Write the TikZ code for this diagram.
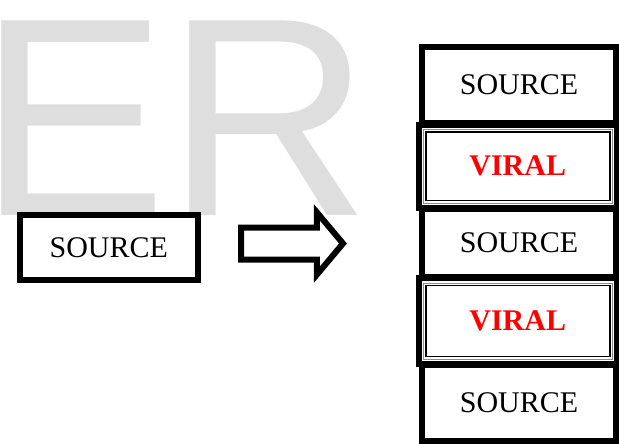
\documentclass[tikz,border=0pt]{standalone}
\usepackage{fontspec}
\newfontfamily\wmfont{Liberation Sans}
\newfontfamily\boxfont{Liberation Serif}
\usetikzlibrary{shapes.arrows}

\begin{document}
\begin{tikzpicture}[x=1pt,y=-1pt,
  box/.style={draw,line width=6pt,fill=white,inner sep=0pt,font=\boxfont\fontsize{30}{36}\selectfont},
  viral/.style={box,text=red,font=\boxfont\fontsize{30}{36}\selectfont\bfseries,
    path picture={
      \draw[black!45,line width=0.6pt] ([shift={(4.8pt,-4.8pt)}]path picture bounding box.north west) rectangle ([shift={(-4.8pt,4.8pt)}]path picture bounding box.south east);
      \draw[line width=1.8pt] ([shift={(7.5pt,-7.5pt)}]path picture bounding box.north west) rectangle ([shift={(-7pt,7.5pt)}]path picture bounding box.south east);
    }},
  bigarrow/.style={single arrow,draw,line width=6pt,inner xsep=0pt,inner ysep=13pt,outer sep=0pt,
    minimum height=102pt,minimum width=56pt,single arrow tip angle=100,single arrow head extend=15pt}
]
\useasboundingbox (0,0) rectangle (619,444);

\node[font=\wmfont\fontsize{283}{283}\selectfont,text=black!13,inner sep=0pt,anchor=base west] (wm) at (-22,215) {ER};

\node[box,minimum width=177.5pt,minimum height=65pt] (src) at (108.75,247.5) {SOURCE};
\node[bigarrow,anchor=tail] (shift) at (241,243.5) {};

\node[box,minimum width=194pt,minimum height=76pt] (s1) at (519,85) {SOURCE};
\node[box,minimum width=194pt,minimum height=68pt] (s2) at (519,243) {SOURCE};
\node[box,minimum width=194pt,minimum height=76pt] (s3) at (519,403) {SOURCE};
\node[viral,minimum width=198.5pt,minimum height=83.5pt] (v1) at (517.75,166.25) {VIRAL};
\node[viral,minimum width=198.5pt,minimum height=86pt] (v2) at (517.75,321) {VIRAL};
\end{tikzpicture}
\end{document}
